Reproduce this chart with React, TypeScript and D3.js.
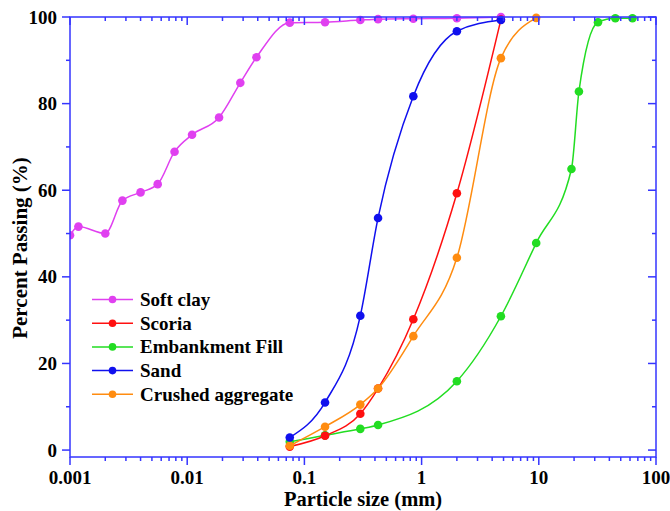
import React from "react";
import * as d3 from "d3";

const softClayX = [0.001, 0.00118, 0.002, 0.0028, 0.004, 0.0056, 0.0078, 0.011, 0.0187, 0.0284, 0.039, 0.075, 0.15, 0.3, 0.425, 0.85, 2, 4.75];
const softClayY = [49.6, 51.6, 50.0, 57.6, 59.5, 61.4, 68.9, 72.8, 76.8, 84.8, 90.7, 98.7, 98.8, 99.3, 99.5, 99.6, 99.7, 100];

const sieveX = [0.075, 0.15, 0.3, 0.425, 0.85, 2, 4.75, 9.5];
const scoriaY = [0.8, 3.3, 8.4, 14.2, 30.2, 59.3, 99.4];
const sandY = [2.9, 11.0, 31.0, 53.6, 81.7, 96.7, 99.3];
const crushedY = [1.0, 5.4, 10.5, 14.2, 26.3, 44.4, 90.5, 99.8];

const fillX = [0.075, 0.15, 0.3, 0.425, 2, 4.75, 9.5, 19, 22, 32, 45, 63];
const fillY = [1.9, 3.4, 4.9, 5.8, 15.9, 30.9, 47.8, 64.9, 82.8, 98.8, 99.7, 99.7];

const seriesNames = ["Soft clay", "Scoria", "Embankment Fill", "Sand", "Crushed aggregate"];
const seriesColors = ["#e040f0", "#ff1010", "#22dd22", "#1010ee", "#ff8c10"];

const xTickValues = [0.001, 0.01, 0.1, 1, 10, 100];
const xTickLabels = ["0.001", "0.01", "0.1", "1", "10", "100"];
const yTickValues = [0, 20, 40, 60, 80, 100];

const W = 670, H = 511;
const L = 70, R = 656, T = 17, B = 457;
const FONT = "'Liberation Serif', 'Times New Roman', serif";
const AXIS = "#3535ff";

export default function App() {
  const x = d3.scaleLog().domain([0.001, 100]).range([L, R]);
  const y = d3.scaleLinear().domain([-1.6, 100]).range([B, T]);

  const series = [
    { xs: softClayX, ys: softClayY },
    { xs: sieveX, ys: scoriaY },
    { xs: fillX, ys: fillY },
    { xs: sieveX, ys: sandY },
    { xs: sieveX, ys: crushedY },
  ].map((s, i) => ({
    name: seriesNames[i],
    color: seriesColors[i],
    pts: s.ys.map((v, j) => [s.xs[j], v] as [number, number]),
  }));

  const line = d3
    .line<[number, number]>()
    .x((d) => x(d[0]))
    .y((d) => y(d[1]))
    .curve(d3.curveMonotoneX);

  const minorX: number[] = [];
  for (let e = -3; e < 2; e++) {
    for (let k = 2; k <= 9; k++) minorX.push(k * Math.pow(10, e));
  }
  const minorY = [10, 30, 50, 70, 90];

  const drawOrder = [0, 2, 1, 4, 3];

  return (
    <svg width={W} height={H} style={{ position: "absolute", left: 0, top: 0 }}>
      <defs>
        <clipPath id="plotclip">
          <rect x={L} y={T - 6} width={R - L + 6} height={B - T + 6} />
        </clipPath>
      </defs>
      <rect x={0} y={0} width={W} height={H} fill="white" />

      <g clipPath="url(#plotclip)">
        {drawOrder.map((i) => {
          const s = series[i];
          return (
            <g key={s.name}>
              <path d={line(s.pts) || ""} fill="none" stroke={s.color} strokeWidth={1.5} />
              {s.pts.map((p, j) => (
                <circle key={j} cx={x(p[0])} cy={y(p[1])} r={4.3} fill={s.color} />
              ))}
            </g>
          );
        })}
      </g>

      {/* axes */}
      <g stroke={AXIS} strokeWidth={1.5} fill="none">
        <rect x={L} y={T} width={R - L} height={B - T} />
        {xTickValues.map((v) => (
          <g key={"xt" + v}>
            <line x1={x(v)} x2={x(v)} y1={B} y2={B + 8} />
            <line x1={x(v)} x2={x(v)} y1={T} y2={T + 8} />
          </g>
        ))}
        {minorX.map((v) => (
          <g key={"xm" + v}>
            <line x1={x(v)} x2={x(v)} y1={B} y2={B + 4} />
            <line x1={x(v)} x2={x(v)} y1={T} y2={T + 4} />
          </g>
        ))}
        {yTickValues.map((v) => (
          <g key={"yt" + v}>
            <line x1={L - 8} x2={L} y1={y(v)} y2={y(v)} />
            <line x1={R - 8} x2={R} y1={y(v)} y2={y(v)} />
          </g>
        ))}
        {minorY.map((v) => (
          <g key={"ym" + v}>
            <line x1={L - 4} x2={L} y1={y(v)} y2={y(v)} />
            <line x1={R - 4} x2={R} y1={y(v)} y2={y(v)} />
          </g>
        ))}
      </g>

      <g fontFamily={FONT} fontWeight="bold" fontSize={19} fill="#000">
        {xTickValues.map((v, i) => (
          <text key={"xl" + v} x={x(v)} y={484} textAnchor="middle">
            {xTickLabels[i]}
          </text>
        ))}
        {yTickValues.map((v) => (
          <text key={"yl" + v} x={57} y={y(v)} textAnchor="end" dominantBaseline="central">
            {v}
          </text>
        ))}
        <text x={(L + R) / 2} y={506} textAnchor="middle" fontSize={20.5}>
          Particle size (mm)
        </text>
        <text
          transform={`translate(27,${248}) rotate(-90)`}
          textAnchor="middle"
          fontSize={21}
        >
          Percent Passing (%)
        </text>
      </g>

      {/* legend */}
      <g fontFamily={FONT} fontWeight="bold" fontSize={19}>
        {series.map((s, i) => {
          const ly = 299.5 + i * 23.7;
          return (
            <g key={"lg" + s.name}>
              <line x1={92} x2={133} y1={ly} y2={ly} stroke={s.color} strokeWidth={1.5} />
              <circle cx={112.5} cy={ly} r={3.8} fill={s.color} />
              <text x={140} y={ly} dominantBaseline="central" fill="#000">
                {s.name}
              </text>
            </g>
          );
        })}
      </g>
    </svg>
  );
}
